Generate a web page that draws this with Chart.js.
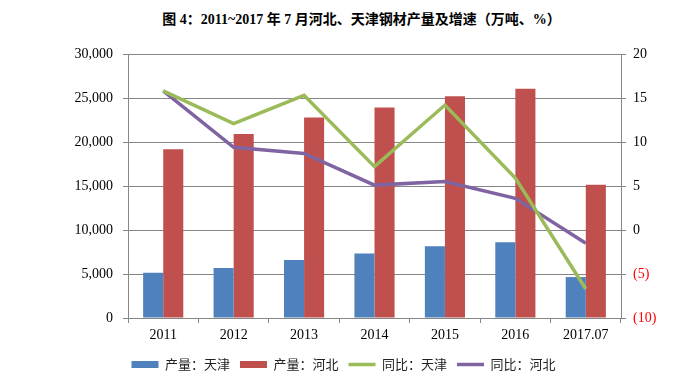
<!DOCTYPE html>
<html lang="zh">
<head>
   <meta charset="UTF-8" />
   <title>河北、天津钢材产量及增速</title>
   <style>
      body {
         margin: 0;
         padding: 0;
         background-color: #ffffff;
      }
      .wrap {
         position: relative;
         width: 687px;
         height: 384px;
      }
      .title {
         position: absolute;
         top: 8px;
         left: 0;
         width: 687px;
         padding-left: 36px;
         box-sizing: border-box;
         text-align: center;
         font-family: "Liberation Serif", "Noto Sans CJK SC", serif;
         font-weight: bold;
         font-size: 14px;
         color: #000;
      }
      canvas {
         position: absolute;
         top: 0;
         left: 0;
      }
   </style>
   <script src="https://cdn.jsdelivr.net/npm/chart.js@4.4.1/dist/chart.umd.min.js"></script>
</head>
<body>
   <div class="wrap">
      <div class="title">图 4：2011~2017 年 7 月河北、天津钢材产量及增速（万吨、%）</div>
      <canvas id="chart" width="687" height="384"></canvas>
   </div>

   <script>
      // data
      const years = ['2011', '2012', '2013', '2014', '2015', '2016', '2017.07'];
      const outputTianjin = [5150, 5680, 6600, 7330, 8150, 8620, 4650];
      const outputHebei = [19180, 20920, 22790, 23920, 25210, 26050, 15130];
      const growthTianjin = [15.8, 12.1, 15.3, 7.2, 14.2, 5.9, -6.7];
      const growthHebei = [15.8, 9.4, 8.7, 5.1, 5.5, 3.6, -1.5];

      const serif = "'Liberation Serif', 'Times New Roman', serif";
      const gridGray = '#868686';

      new Chart(document.getElementById('chart'), {
         type: 'bar',
         data: {
            labels: years,
            datasets: [
               {
                  label: '产量：天津',
                  data: outputTianjin,
                  backgroundColor: '#4F81BD',
                  yAxisID: 'y',
                  order: 1,
                  pointStyle: 'rect',
                  barPercentage: 1,
                  categoryPercentage: 0.57
               },
               {
                  label: '产量：河北',
                  data: outputHebei,
                  backgroundColor: '#C0504D',
                  yAxisID: 'y',
                  order: 1,
                  pointStyle: 'rect',
                  barPercentage: 1,
                  categoryPercentage: 0.57
               },
               {
                  type: 'line',
                  label: '同比：天津',
                  data: growthTianjin,
                  borderColor: '#9BBB59',
                  backgroundColor: '#9BBB59',
                  borderWidth: 3.5,
                  pointRadius: 0,
                  pointStyle: 'line',
                  yAxisID: 'y1',
                  order: 0
               },
               {
                  type: 'line',
                  label: '同比：河北',
                  data: growthHebei,
                  borderColor: '#8064A2',
                  backgroundColor: '#8064A2',
                  borderWidth: 3.5,
                  pointRadius: 0,
                  pointStyle: 'line',
                  yAxisID: 'y1',
                  order: 0
               }
            ]
         },
         options: {
            responsive: false,
            animation: false,
            layout: {
               padding: { top: 54, left: 0, right: 0, bottom: 3 }
            },
            plugins: {
               tooltip: { enabled: false },
               legend: {
                  position: 'bottom',
                  labels: {
                     usePointStyle: true,
                     pointStyleWidth: 27,
                     boxHeight: 7,
                     padding: 10,
                     color: '#222',
                     font: { family: "'Noto Sans CJK SC', sans-serif", size: 13 },
                     sort: (a, b) => a.datasetIndex - b.datasetIndex
                  }
               }
            },
            scales: {
               x: {
                  grid: {
                     offset: true,
                     drawOnChartArea: false,
                     tickLength: 5,
                     color: gridGray
                  },
                  border: { color: gridGray },
                  ticks: {
                     color: '#000',
                     padding: 4,
                     font: { family: serif, size: 14 }
                  },
                  afterFit: scale => { scale.height = 30; }
               },
               y: {
                  position: 'left',
                  min: 0,
                  max: 30000,
                  grid: { color: gridGray, tickLength: 5 },
                  border: { color: gridGray },
                  ticks: {
                     stepSize: 5000,
                     color: '#000',
                     padding: 10,
                     font: { family: serif, size: 14 },
                     callback: v => v.toLocaleString('en-US')
                  },
                  afterFit: scale => { scale.width = 128; }
               },
               y1: {
                  position: 'right',
                  min: -10,
                  max: 20,
                  grid: { drawOnChartArea: false, color: gridGray, tickLength: 5 },
                  border: { color: gridGray },
                  ticks: {
                     stepSize: 5,
                     padding: 7,
                     font: { family: serif, size: 14 },
                     color: c => (c.tick && c.tick.value < 0 ? '#FF0000' : '#000'),
                     callback: v => (v < 0 ? '(' + (-v) + ')' : String(v))
                  },
                  afterFit: scale => { scale.width = 66; }
               }
            }
         }
      });
   </script>
</body>
</html>
